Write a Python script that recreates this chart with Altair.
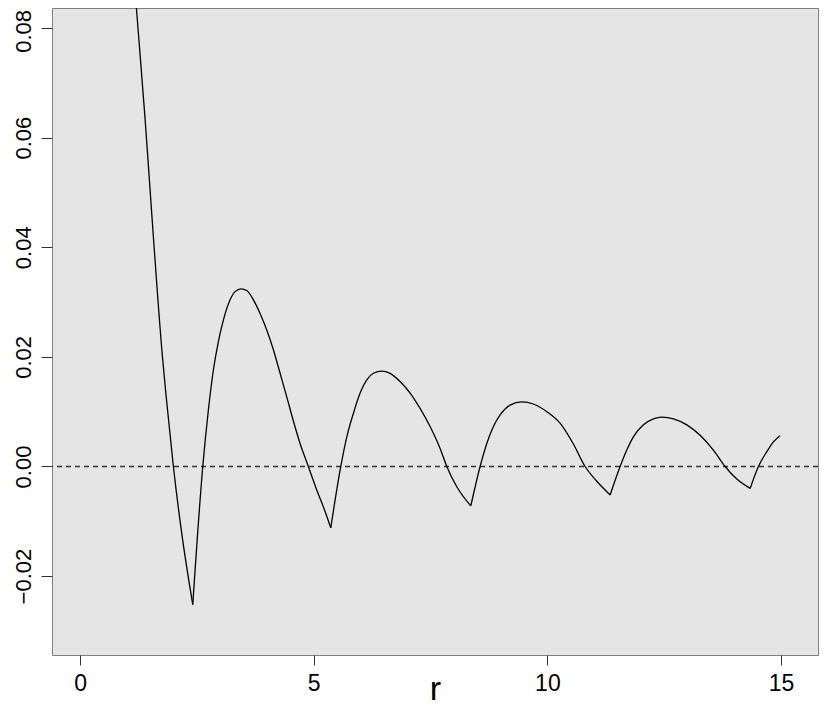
import altair as alt
import pandas as pd

r_vals = [1.143, 1.198, 1.391, 1.569, 1.761, 1.840, 1.997, 2.176, 2.412,
          2.626, 2.746, 2.853, 2.960, 3.067, 3.210, 3.317, 3.445, 3.567,
          3.709, 3.852, 3.995, 4.137, 4.280, 4.423, 4.565, 4.708, 4.885,
          5.065, 5.243, 5.365, 5.579, 5.708, 5.849, 5.992, 6.135, 6.276,
          6.456, 6.634, 6.848, 7.062, 7.276, 7.490, 7.704, 7.847, 8.061,
          8.361, 8.560, 8.703, 8.845, 8.988, 9.202, 9.452, 9.700, 9.987,
          10.271, 10.556, 10.807, 11.057, 11.342, 11.556, 11.699, 11.840,
          12.054, 12.268, 12.448, 12.696, 12.983, 13.268, 13.552, 13.803,
          14.053, 14.338, 14.515, 14.695, 14.836, 14.980]
f_vals = [0.0906, 0.0845, 0.0635, 0.0419, 0.0202, 0.0130, 0.0000, -0.0122, -0.0252,
          0.0000, 0.0103, 0.0176, 0.0228, 0.0267, 0.0304, 0.0319, 0.0324, 0.0321,
          0.0304, 0.0279, 0.0249, 0.0213, 0.0170, 0.0127, 0.0083, 0.0042, 0.0000,
          -0.0043, -0.0082, -0.0112, 0.0000, 0.0054, 0.0097, 0.0134, 0.0158, 0.0170,
          0.0174, 0.0170, 0.0155, 0.0134, 0.0106, 0.0073, 0.0033, 0.0000, -0.0037,
          -0.0072, 0.0000, 0.0042, 0.0073, 0.0094, 0.0112, 0.0118, 0.0114, 0.0100,
          0.0079, 0.0041, 0.0000, -0.0027, -0.0052, 0.0000, 0.0030, 0.0054,
          0.0076, 0.0087, 0.0090, 0.0087, 0.0076, 0.0057, 0.0030, 0.0000,
          -0.0023, -0.0040, 0.0000, 0.0027, 0.0045, 0.0056]
# sharp minima (cusps) of the curve, in r
cusp_r = [2.412, 5.365, 8.361, 11.342, 14.338]

x_ticks = [0, 5, 10, 15]
y_ticks = [-0.02, 0.00, 0.02, 0.04, 0.06, 0.08]
ref_level = [0.0]

# split the curve into smooth pieces between cusps (cusp points shared)
rows = []
bounds = [-1e9] + cusp_r + [1e9]
for s in range(len(bounds) - 1):
    lo, hi = bounds[s], bounds[s + 1]
    for i, (rv, fv) in enumerate(zip(r_vals, f_vals)):
        if lo <= rv <= hi:
            rows.append({"r": rv, "f": fv, "seg": s, "i": i})
df = pd.DataFrame(rows)
ref = pd.DataFrame({"f": ref_level})

FONT = "Liberation Sans"

xscale = alt.Scale(domain=[-0.6, 15.79], nice=False, zero=False)
yscale = alt.Scale(domain=[-0.03439, 0.08364], nice=False, zero=False)

xaxis = alt.Axis(values=x_ticks, format="d", grid=False, domain=False,
                 tickSize=10, tickColor="#333333", tickWidth=1,
                 labelFont=FONT, labelFontSize=23, labelColor="#000000",
                 labelPadding=7, title="r", titleFont=FONT, titleFontSize=34,
                 titleFontWeight=400, titleColor="#000000",
                 titleBaseline="alphabetic", titleY=44)
yaxis = alt.Axis(values=y_ticks, format=".2f", grid=False, domain=False,
                 tickSize=11, tickColor="#333333", tickWidth=1,
                 labelFont=FONT, labelFontSize=22, labelColor="#000000",
                 labelAngle=-90, labelAlign="center", labelBaseline="alphabetic",
                 labelPadding=11,
                 labelOffset={"condition": {"test": "datum.value > 0.07", "value": 3}, "value": 0},
                 title=None)

line = alt.Chart(df).mark_line(color="#000000", strokeWidth=1.3, clip=True,
                               interpolate="monotone").encode(
    x=alt.X("r:Q", scale=xscale, axis=xaxis),
    y=alt.Y("f:Q", scale=yscale, axis=yaxis),
    detail="seg:N",
    order="i:Q",
)

zero = alt.Chart(ref).mark_rule(color="#333333", strokeWidth=1.3, strokeDash=[5, 4]).encode(
    y=alt.Y("f:Q", scale=yscale),
)

chart = alt.layer(zero, line).properties(
    width=766, height=647,
    autosize=alt.AutoSizeParams(type="none"),
    padding={"left": 44, "top": 0, "right": 4, "bottom": 51},
    background="#ffffff",
).configure_view(
    fill="#E5E5E5", stroke="#7f7f7f", strokeWidth=1,
)

chart.save("out.html", embed_options={"renderer": "svg", "actions": False})
